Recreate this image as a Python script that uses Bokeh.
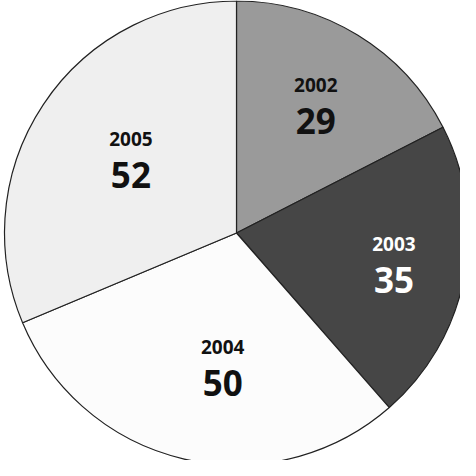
import math
from bokeh.plotting import figure
from bokeh.models import Range1d, ColumnDataSource
from bokeh.core.properties import value
from bokeh.embed import file_html
from bokeh.resources import INLINE

# data
years = ["2002", "2003", "2004", "2005"]
counts = [29, 35, 50, 52]

# styles
fills = ["#9a9a9a", "#464646", "#fcfcfc", "#efefef"]
text_colors = ["#111111", "#ffffff", "#111111", "#111111"]
label_radius = [0.655, 0.69, 0.57, 0.56]
label_angle_nudge = [0.0, 0.5, 7.0, -2.0]  # degrees

R = 232.0
W, H = 460, 460
cx_px, cy_px = 236.0, 232.5

total = sum(counts)
starts, ends, lx, ly = [], [], [], []
acc = 0.0
for i, c in enumerate(counts):
    a0 = acc / total * 2 * math.pi
    acc += c
    a1 = acc / total * 2 * math.pi
    starts.append(math.pi / 2 - a0)
    ends.append(math.pi / 2 - a1)
    mid = math.pi / 2 - (a0 + a1) / 2 + math.radians(label_angle_nudge[i])
    lx.append(label_radius[i] * R * math.cos(mid))
    ly.append(label_radius[i] * R * math.sin(mid))

src = ColumnDataSource(dict(
    start=starts, end=ends, fill=fills, year=years,
    val=[str(c) for c in counts], tc=text_colors,
    lx=lx, ly_year=[y + 18 for y in ly], ly_val=[y - 18 for y in ly],
))

p = figure(width=W, height=H, output_backend="svg", toolbar_location=None,
           x_range=Range1d(-cx_px, W - cx_px), y_range=Range1d(-(H - cy_px), cy_px),
           min_border=0)
p.axis.visible = False
p.grid.visible = False
p.outline_line_color = None
p.background_fill_color = "white"

p.wedge(x=0, y=0, radius=R, start_angle="start", end_angle="end", direction="clock",
        fill_color="fill", line_color="#222222", line_width=1.2, source=src)

p.text(x="lx", y="ly_year", text="year", text_color="tc", source=src,
       text_font=value("Open Sans"), text_font_style="bold", text_font_size="19px",
       text_align="center", text_baseline="middle")
p.text(x="lx", y="ly_val", text="val", text_color="tc", source=src,
       text_font=value("Open Sans"), text_font_style="bold", text_font_size="35px",
       text_align="center", text_baseline="middle")

open("out.html", "w").write(file_html(p, INLINE))
